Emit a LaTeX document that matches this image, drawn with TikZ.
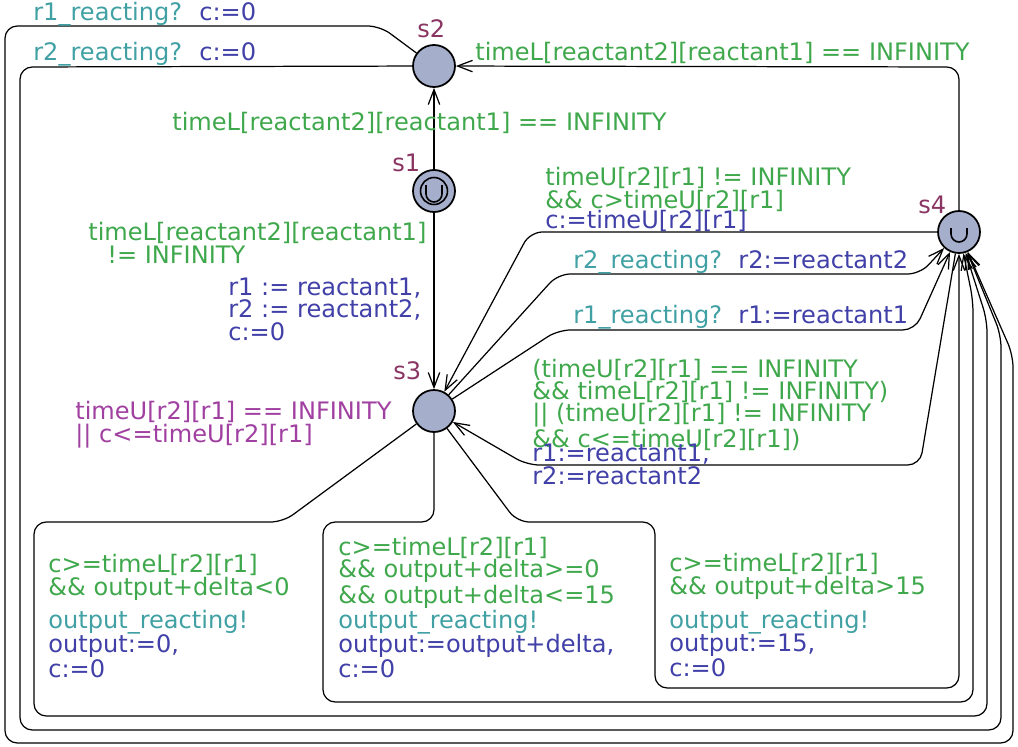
\documentclass[tikz,border=0pt]{standalone}
\usepackage{fontspec}
\setmainfont{DejaVu Sans}
\usetikzlibrary{arrows.meta}
\definecolor{guardcol}{HTML}{40A84C}
\definecolor{synccol}{HTML}{40A0A3}
\definecolor{updcol}{HTML}{4040A8}
\definecolor{invcol}{HTML}{A040A0}
\definecolor{namecol}{HTML}{8A3462}
\definecolor{locfill}{HTML}{A5AECB}
\tikzset{
  loc/.style={circle,draw,line width=1pt,fill=locfill,minimum size=0.84cm,inner sep=0pt},
  lbl/.style={anchor=base west,inner sep=0pt,align=left,
    font=\fontsize{13.7pt}{12.6pt}\selectfont},
  locname/.style={lbl,text=namecol},
  guard/.style={lbl,text=guardcol},
  sync/.style={lbl,text=synccol},
  upd/.style={lbl,text=updcol},
  inv/.style={lbl,text=invcol},
  edge/.style={line width=0.7pt,rounded corners=7pt},
}
\begin{document}
\begin{tikzpicture}[x=0.02cm,y=-0.02cm,>={Straight Barb[length=8.5pt,width=6.5pt]}]
    \useasboundingbox (0,0) rectangle (1018,747);
    % The locations
    \node[loc] (s1) at (434,191) {};
    \node[loc] (s2) at (434,66) {};
    \node[loc] (s3) at (434,411) {};
    \node[loc] (s4) at (959,232) {};
    % Initial and urgent marks
    \draw[line width=0.9pt] (s1.center) circle[radius=0.27cm];
    \draw[line width=0.9pt] (426,185) -- (426,194) arc[start angle=180,end angle=360,radius=0.16cm] -- (442,185);
    \draw[line width=0.9pt] (951,228) -- (951,234) arc[start angle=180,end angle=360,radius=0.16cm] -- (967,228);
    % Location names and the invariant (multi-line texts sit on their last line)
    \node[locname] (n1) at (392,171) {s1};
    \node[locname] (n2) at (417,37) {s2};
    \node[locname] (n3) at (393,379) {s3};
    \node[locname] (n4) at (918,213) {s4};
    \node[inv] (i3) at (75,442) {timeU[r2][r1] == INFINITY\\|| c<=timeU[r2][r1]};
    % Edges out of s1
    \draw[edge,->] (s1) -- (s2);
    \draw[edge,->] (s1) -- (s3);
    \node[guard] (g12) at (172,130) {timeL[reactant2][reactant1] == INFINITY};
    \node[guard] (g13) at (88,263) {timeL[reactant2][reactant1]\\\hspace*{0.38cm}!= INFINITY};
    \node[upd] (u13) at (228,340) {r1 := reactant1,\\r2 := reactant2,\\c:=0};
    % Edges out of s2, round the outside
    \draw[edge,->] (s2) -- (380,26) -- (5,26) -- (5,743) -- (1013,743) -- (1013,355) -- (s4);
    \draw[edge,->] (s2) -- (20,67) -- (20,730) -- (1001,730) -- (1001,335) -- (s4);
    \node[sync] (y24a) at (33,20) {r1\_reacting?};
    \node[upd] (u24a) at (199,20) {c:=0};
    \node[sync] (y24b) at (33,60) {r2\_reacting?};
    \node[upd] (u24b) at (199,60) {c:=0};
    % Edges out of s3
    \draw[edge,->] (s3) -- (558,274) -- (920,274) -- (s4);
    \draw[edge,->] (s3) -- (558,330) -- (915,330) -- (s4);
    \draw[edge,->] (s3) -- (283,522) -- (34,522) -- (34,716) -- (987,716) -- (987,320) -- (s4);
    \draw[edge,->] (s3) -- (434,522) -- (323,522) -- (323,702) -- (973,702) -- (973,300) -- (s4);
    \draw[edge,->] (s3) -- (517,522) -- (655,522) -- (655,688) -- (959,688) -- (s4);
    \node[sync] (y34b) at (573,268) {r2\_reacting?};
    \node[upd] (u34b) at (738,268) {r2:=reactant2};
    \node[sync] (y34a) at (573,323) {r1\_reacting?};
    \node[upd] (u34a) at (738,323) {r1:=reactant1};
    % the three output boxes
    \node[guard] (g34l) at (48,595) {c>=timeL[r2][r1]\\\&\& output+delta<0};
    \node[sync] (y34l) at (48,628) {output\_reacting!};
    \node[upd] (u34l) at (48,677) {output:=0,\\c:=0};
    \node[guard] (g34m) at (338,603) {c>=timeL[r2][r1]\\\&\& output+delta>=0\\\&\& output+delta<=15};
    \node[sync] (y34m) at (338,628) {output\_reacting!};
    \node[upd] (u34m) at (338,677) {output:=output+delta,\\c:=0};
    \node[guard] (g34r) at (669,594) {c>=timeL[r2][r1]\\\&\& output+delta>15};
    \node[sync] (y34r) at (669,628) {output\_reacting!};
    \node[upd] (u34r) at (669,676) {output:=15,\\c:=0};
    % Edges out of s4
    \draw[edge,->] (s4) -- (959,67) -- (s2);
    \draw[edge,->] (s4) -- (530,232) -- (s3);
    \draw[edge,->] (s4) -- (920,465) -- (527,465) -- (s3);
    \node[guard] (g42) at (475,60) {timeL[reactant2][reactant1] == INFINITY};
    \node[guard] (g43a) at (545,208) {timeU[r2][r1] != INFINITY\\\&\& c>timeU[r2][r1]};
    \node[upd] (u43a) at (545,228) {c:=timeU[r2][r1]};
    \node[guard] (g43b) at (532,447) {(timeU[r2][r1] == INFINITY\\\&\& timeL[r2][r1] != INFINITY)\\|| (timeU[r2][r1] != INFINITY\\\&\& c<=timeU[r2][r1])};
    \node[upd] (u43b) at (532,484) {r1:=reactant1,\\r2:=reactant2};
\end{tikzpicture}
\end{document}
